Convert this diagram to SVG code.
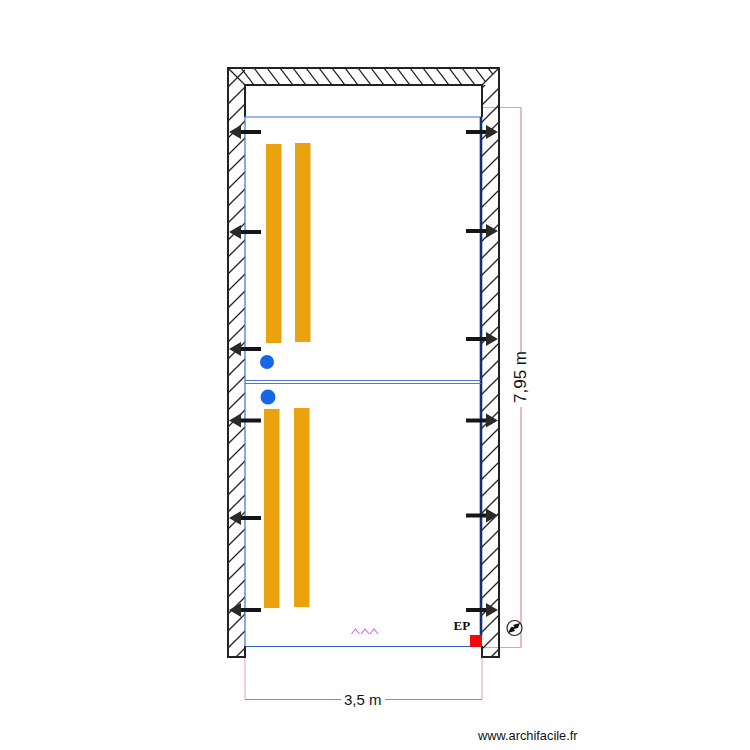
<svg xmlns="http://www.w3.org/2000/svg" width="750" height="750" viewBox="0 0 750 750">
<style>
text{font-family:"Liberation Sans",Arial,sans-serif;fill:#111}
.bar{fill:#eba20f}
.dim{fill:none;stroke:#e3a3ab;stroke-width:1}
.dimd{fill:none;stroke:#d9707f;stroke-width:1}
.hatchl{stroke:#222;stroke-width:1.300;fill:none}
.wall{stroke:#222;stroke-width:2;fill:none}
.dot{fill:#1567e8}
.arr{stroke:#151515;stroke-width:4;fill:none}
.head{fill:#2a2a2a}
</style>
<defs>
<pattern id="hs" width="17" height="17" patternUnits="userSpaceOnUse" patternTransform="translate(228 70)"><path class="hatchl" d="M-1 18L18 -1M-1 1L1 -1M16 18L18 16"/></pattern>
<pattern id="ht" width="13" height="17" patternUnits="userSpaceOnUse" patternTransform="translate(228 68)"><path class="hatchl" d="M0 0L13 17M-13 0L0 17M13 0L26 17"/></pattern>
</defs>
<rect width="750" height="750" fill="#fff"/>
<g id="dimension-lines">
<path class="dim" d="M482 107.500H521"/>
<path class="dimd" d="M521 107.500V352M521 407V647.500"/>
<path class="dim" d="M521 647.500H482M245 657V699.500M482 699.500V657"/>
<path class="dimd" d="M245 699.500H341M385 699.500H482"/>
</g>
<g id="walls">
<path fill="url(#hs)" d="M228 68H245V657H228Z"/>
<path fill="url(#hs)" d="M482 85H499V657H482Z"/>
<path fill="url(#ht)" d="M228 68H499L482 85H245Z"/>
<path class="hatchl" d="M228 68L245 85M499 68L482 85"/>
<path class="wall" d="M245 646V657H228V68H499V657H482V646M245 85H482V117M245 85V117"/>
</g>
<g id="rooms">
<path d="M245 117H481" stroke="#7f9fe8" stroke-width="1.500" fill="none"/>
<path d="M245 117V646" stroke="#3d6fd0" stroke-width="1.200" fill="none"/>
<path d="M245 646.500H476" stroke="#2a5cc4" stroke-width="1.200" fill="none"/>
<path d="M481 117V636" stroke="#13306f" stroke-width="2.600" fill="none"/>
<path d="M245 380.500H481M245 383.500H481" stroke="#4a78d6" stroke-width="1.200" fill="none"/>
</g>
<g id="bars">
<rect class="bar" x="266" y="144" width="15.500" height="199"/>
<rect class="bar" x="295" y="143" width="15.500" height="199"/>
<rect class="bar" x="264" y="409" width="15.500" height="199"/>
<rect class="bar" x="294" y="408" width="15.500" height="199"/>
</g>
<g id="dots">
<circle class="dot" cx="267" cy="362" r="7"/>
<circle class="dot" cx="268" cy="397" r="7.500"/>
</g>
<g id="connectors">
<g id="arrows-left">
<path class="arr" d="M236 132H261M236 232H261M236 349H261M236 420.500H261M236 518H261M236 610H261"/>
<path class="head" d="M229 132L241 125V139ZM229 232L241 225V239ZM229 349L241 342V356ZM229 420.500L241 413.500V427.500ZM229 518L241 511V525ZM229 610L241 603V617Z"/>
</g>
<g id="arrows-right">
<path class="arr" d="M466 132H491M466 231H491M466 339H491M466 420.500H491M466 515.500H491M466 610H491"/>
<path class="head" d="M498 132L486 125V139ZM498 231L486 224V238ZM498 339L486 332V346ZM498 420.500L486 413.500V427.500ZM498 515.500L486 508.500V522.500ZM498 610L486 603V617Z"/>
</g>
</g>
<g id="dim-labels">
<text x="344" y="705" font-size="15">3,5 m</text>
<text transform="translate(526 377) rotate(-90)" font-size="17" text-anchor="middle">7,95 m</text>
</g>
<g id="ep">
<text x="453.500" y="630" style="font-family:'Liberation Serif',serif;font-weight:bold" font-size="13">EP</text>
<rect x="470" y="635" width="12" height="12" fill="#f20a0a"/>
</g>
<g id="symbol">
<path d="M351.500 634l4 -5 4 5M361 634l4 -5 4 5M370 634l4 -5 4 5" fill="none" stroke="#d070e0" stroke-width="1.100"/>
</g>
<g id="compass">
<circle cx="514.500" cy="628" r="7.500" fill="#fff" stroke="#222" stroke-width="1.200"/>
<path d="M520 623L513 625L514.500 627L511 627L508 633L515 631L514 629L518 628Z" fill="#111"/>
</g>
<text id="credit" x="478" y="740" font-size="12.800">www.archifacile.fr</text>
</svg>
